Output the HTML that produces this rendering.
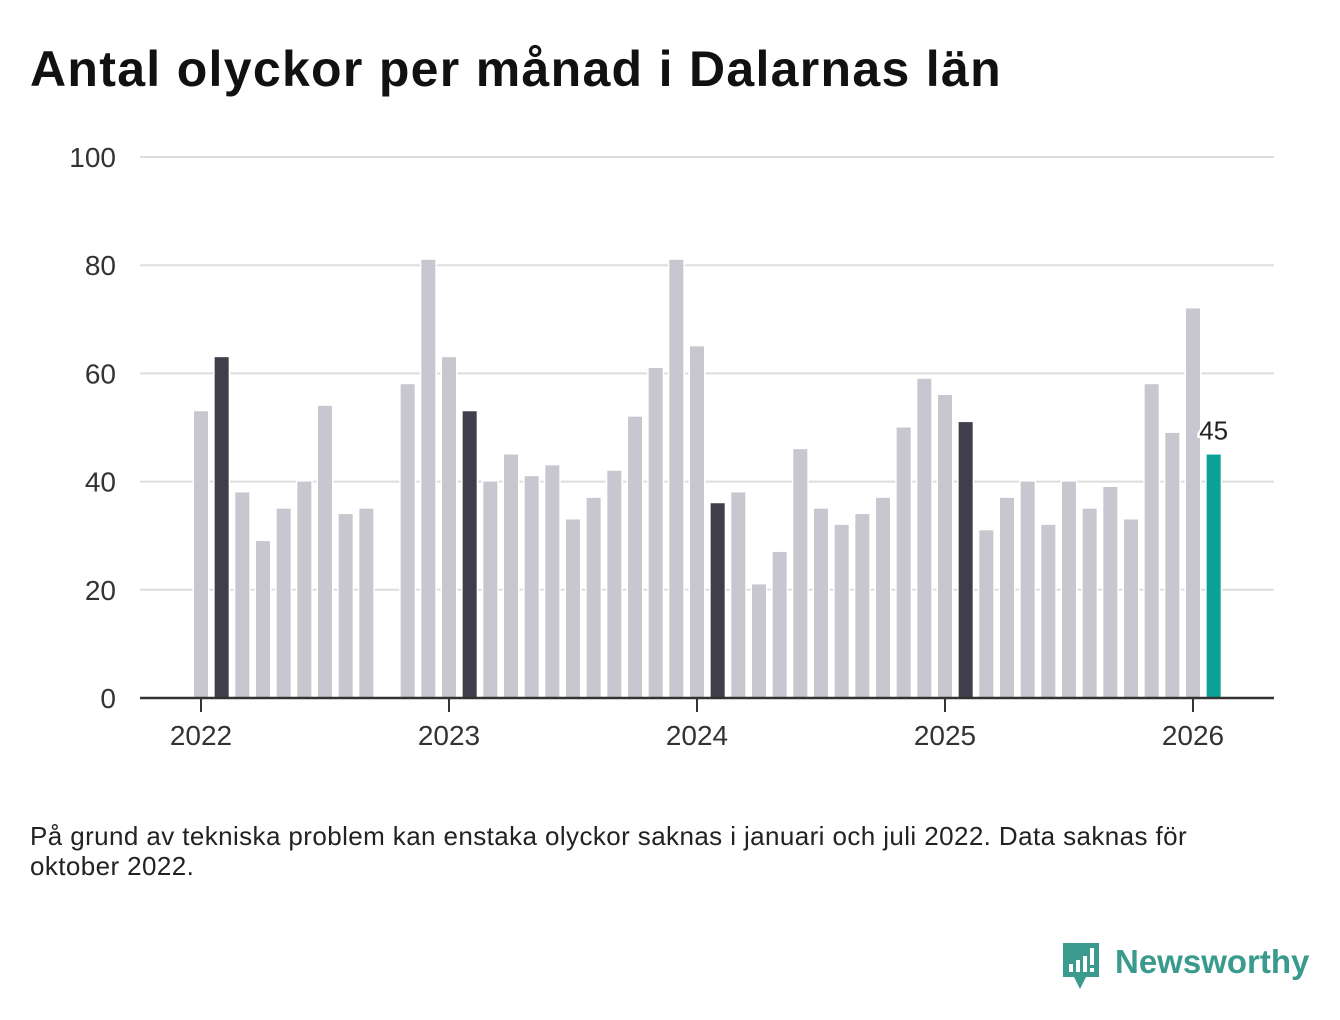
<!DOCTYPE html>
<html><head><meta charset="utf-8"><style>
body{margin:0;width:1340px;height:1020px;background:#fff;font-family:"Liberation Sans",sans-serif;overflow:hidden;position:relative}
h1{position:absolute;left:30px;top:40px;margin:0;font-size:50px;letter-spacing:1.3px;font-weight:bold;color:#111}
.note{position:absolute;left:30px;top:821px;font-size:26px;line-height:30px;color:#222;width:1190px;letter-spacing:0.4px}
</style></head><body>
<h1>Antal olyckor per månad i Dalarnas län</h1>
<svg id="chart" width="1340" height="800" style="position:absolute;left:0;top:0"></svg>
<div class="note">På grund av tekniska problem kan enstaka olyckor saknas i januari och juli 2022. Data saknas för oktober 2022.</div>
<svg width="260" height="60" style="position:absolute;left:1060px;top:940px">
<path d="M3 3h36v34H26l-6 12-6-12H3z" fill="#3a9a8e"/>
<rect x="9" y="24" width="4" height="8" fill="#fff"/><rect x="16" y="20" width="4" height="12" fill="#fff"/><rect x="23" y="16" width="4" height="16" fill="#fff"/><rect x="30" y="8" width="4" height="17" fill="#fff"/><rect x="30" y="28" width="4" height="4" fill="#fff"/>
<text x="55" y="33" font-family="Liberation Sans" font-weight="bold" font-size="33" fill="#3a9a8e">Newsworthy</text>
</svg>
<script>
const months=["2022-01","2022-02","2022-03","2022-04","2022-05","2022-06","2022-07","2022-08","2022-09","2022-10","2022-11","2022-12","2023-01","2023-02","2023-03","2023-04","2023-05","2023-06","2023-07","2023-08","2023-09","2023-10","2023-11","2023-12","2024-01","2024-02","2024-03","2024-04","2024-05","2024-06","2024-07","2024-08","2024-09","2024-10","2024-11","2024-12","2025-01","2025-02","2025-03","2025-04","2025-05","2025-06","2025-07","2025-08","2025-09","2025-10","2025-11","2025-12","2026-01","2026-02"];
const values=[53,63,38,29,35,40,54,34,35,null,58,81,63,53,40,45,41,43,33,37,42,52,61,81,65,36,38,21,27,46,35,32,34,37,50,59,56,51,31,37,40,32,40,35,39,33,58,49,72,45];
const yTicks=[0,20,40,60,80,100];
const xTickLabels=["2022","2023","2024","2025","2026"];
const svg=document.getElementById('chart');const NS='http://www.w3.org/2000/svg';
const y=v=>698-v*5.41;
const x=i=>201+i*248/12;
function mk(t,a){const e=document.createElementNS(NS,t);for(const k in a)e.setAttribute(k,a[k]);svg.appendChild(e);return e;}
yTicks.forEach(t=>{
 if(t>0){const l=mk('line',{x1:140,x2:1274,y1:y(t),y2:y(t),stroke:'#ddd','stroke-width':2});
 
 }
 const tx=mk('text',{x:116,y:y(t)+10,'text-anchor':'end','font-size':28,fill:'#333','font-family':'Liberation Sans'});tx.textContent=t;
 
 
});
values.forEach((v,i)=>{if(v==null)return;
 const last=i===values.length-1,feb=months[i].endsWith('-02');
 const r=mk('rect',{x:x(i)-7,y:y(v),width:14,height:y(0)-y(v),fill:last?'#0aa296':feb?'#3f3e4b':'#c8c7d0',stroke:'#fff','stroke-width':3,'paint-order':'stroke'});
 
 
 if(last){const t=mk('text',{x:x(i),y:y(v)-15,'text-anchor':'middle','font-size':26,fill:'#222',stroke:'#fff','stroke-width':5,'paint-order':'stroke','font-family':'Liberation Sans'});t.textContent=v;
 
 }
});
const ax=mk('line',{x1:140,x2:1274,y1:698,y2:698,stroke:'#333','stroke-width':2.5});


xTickLabels.forEach((lab,k)=>{const xx=x(k*12);
 mk('line',{x1:xx,x2:xx,y1:698,y2:712,stroke:'#333','stroke-width':2});
 const t=mk('text',{x:xx,y:745,'text-anchor':'middle','font-size':28,fill:'#333','font-family':'Liberation Sans'});t.textContent=lab;
 
 
});
</script>
</body></html>
